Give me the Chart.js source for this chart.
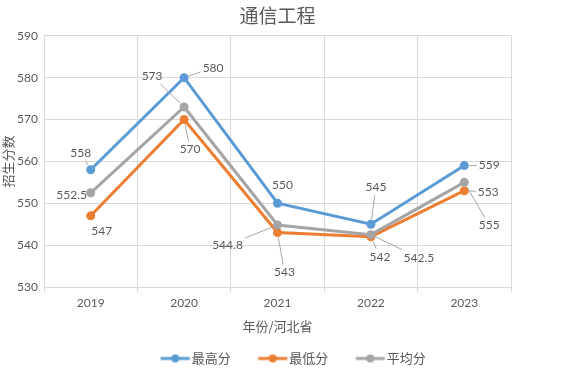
<!DOCTYPE html>
<html>
<head>
<meta charset="utf-8">
<script src="https://cdn.jsdelivr.net/npm/chart.js@4/dist/chart.umd.min.js"></script>
<style>
  html, body { margin: 0; padding: 0; background: #fff; }
  #wrap { width: 569px; height: 375px; }
</style>
</head>
<body>
<div id="wrap"><canvas id="lineChartCanva"></canvas></div>
<script>
// data
var years = ['2019', '2020', '2021', '2022', '2023'];
var maxScores = [558, 580, 550, 545, 559];
var minScores = [547, 570, 543, 542, 553];
var avgScores = [552.5, 573, 544.8, 542.5, 555];
var seriesNames = ['最高分', '最低分', '平均分'];

// label offsets (px, relative to the point) for the data labels
var maxLabelOffsets = [[-10, -17], [29, -10], [5, -18], [5, -37], [25, 0]];
var minLabelOffsets = [[11, 15], [6, 30], [7, 40], [9, 20], [24, 1]];
var avgLabelOffsets = [[-19, 2], [-32, -31], [-50, 20], [48, 23], [25, 43]];

var FONT = 'Lato, "Noto Sans CJK SC", sans-serif';
var CJK = '"Noto Sans CJK SC", sans-serif';
var textColor = '#595959';

// legend marker: line with a dot in the middle
function legendMarker(color) {
    var c = document.createElement('canvas');
    c.width = 60; c.height = 10;
    var g = c.getContext('2d');
    g.strokeStyle = color;
    g.lineWidth = 3;
    g.beginPath(); g.moveTo(26.5, 5); g.lineTo(55.5, 5); g.stroke();
    g.fillStyle = color;
    g.beginPath(); g.arc(41, 5, 4, 0, Math.PI * 2); g.fill();
    return c;
}

// data labels with leader lines
var labelPlugin = {
    id: 'pointLabels',
    afterDatasetsDraw: function (chart) {
        var ctx = chart.ctx;
        ctx.save();
        ctx.font = '12px ' + FONT;
        ctx.textAlign = 'center';
        ctx.textBaseline = 'middle';
        chart.data.datasets.forEach(function (ds, di) {
            var meta = chart.getDatasetMeta(di);
            meta.data.forEach(function (pt, i) {
                var off = ds.labelOffsets[i];
                var lx = pt.x + off[0], ly = pt.y + off[1];
                var txt = String(ds.data[i]);
                var w = ctx.measureText(txt).width / 2 + 2, h = 8;
                var dist = Math.sqrt(off[0] * off[0] + off[1] * off[1]);
                if (dist > 19) {
                    // clip the line to the label box
                    var dx = -off[0], dy = -off[1];
                    var t = Math.min(Math.abs(dx) > 0 ? w / Math.abs(dx) : 1e9,
                                     Math.abs(dy) > 0 ? h / Math.abs(dy) : 1e9);
                    var sx = lx + dx * t, sy = ly + dy * t;
                    var ex = pt.x - dx / dist * 5, ey = pt.y - dy / dist * 5;
                    ctx.strokeStyle = '#A6A6A6';
                    ctx.lineWidth = 1;
                    ctx.beginPath(); ctx.moveTo(sx, sy); ctx.lineTo(ex, ey); ctx.stroke();
                }
                ctx.fillStyle = textColor;
                ctx.fillText(txt, lx, ly);
            });
        });
        ctx.restore();
    }
};

var colors = ['#5B9BD5', '#ED7D31', '#A5A5A5'];
var markers = colors.map(legendMarker);

var chartData = {
    labels: years,
    datasets: [{
        label: seriesNames[0],
        data: maxScores,
        labelOffsets: maxLabelOffsets,
        borderColor: colors[0],
        order: 2
    }, {
        label: seriesNames[1],
        data: minScores,
        labelOffsets: minLabelOffsets,
        borderColor: colors[1],
        order: 1
    }, {
        label: seriesNames[2],
        data: avgScores,
        labelOffsets: avgLabelOffsets,
        borderColor: colors[2],
        order: 0
    }]
};

chartData.datasets.forEach(function (ds) {
    ds.backgroundColor = ds.borderColor;
    ds.borderWidth = 3;
    ds.tension = 0;
    ds.pointStyle = 'circle';
    ds.pointRadius = 4.5;
    ds.pointHoverRadius = 4.5;
    ds.pointBackgroundColor = ds.borderColor;
    ds.pointBorderWidth = 0;
});

var ctx = document.getElementById('lineChartCanva').getContext('2d');

var chartOptions = {
    responsive: true,
    maintainAspectRatio: false,
    animation: false,
    layout: { padding: { left: 0, right: 0, top: 4, bottom: 0 } },
    plugins: {
        title: {
            display: true,
            fullSize: false,
            text: '通信工程',
            color: textColor,
            font: { family: CJK, size: 19, weight: 'normal' },
            padding: { top: 0, bottom: 9 }
        },
        legend: {
            position: 'bottom',
            labels: {
                usePointStyle: true,
                pointStyleWidth: 42,
                color: textColor,
                font: { family: CJK, size: 13 },
                boxHeight: 10,
                padding: 10,
                generateLabels: function (chart) {
                    var items = Chart.defaults.plugins.legend.labels.generateLabels(chart);
                    items.forEach(function (it) { it.pointStyle = markers[it.datasetIndex]; });
                    return items;
                },
                sort: function (a, b) { return a.datasetIndex - b.datasetIndex; }
            }
        },
        tooltip: { enabled: false }
    },
    scales: {
        x: {
            offset: true,
            grid: { color: '#D9D9D9', offset: true, tickLength: 5 },
            border: { color: '#D9D9D9' },
            ticks: { color: textColor, font: { family: FONT, size: 12 }, padding: 4 },
            title: {
                display: true,
                text: '年份/河北省',
                color: textColor,
                font: { family: CJK, size: 13 },
                padding: { top: 4, bottom: 8 }
            },
            afterFit: function (scale) { scale.height = 55; }
        },
        y: {
            min: 530,
            max: 590,
            grid: { color: '#D9D9D9', tickLength: 0 },
            border: { display: false },
            ticks: { stepSize: 10, color: textColor, font: { family: FONT, size: 12 }, padding: 6 },
            title: {
                display: true,
                text: '招生分数',
                color: textColor,
                font: { family: CJK, size: 13 },
                padding: { top: 0, bottom: 0 }
            },
            afterFit: function (scale) { scale.width = 44; }
        },
        // empty space on the right of the plot
        yRight: {
            position: 'right',
            grid: { display: false },
            border: { display: false },
            ticks: { display: false },
            afterFit: function (scale) { scale.width = 58; }
        }
    }
};

var lineChart = new Chart(ctx, {
    type: 'line',
    data: chartData,
    options: chartOptions,
    plugins: [labelPlugin]
});
</script>
</body>
</html>
